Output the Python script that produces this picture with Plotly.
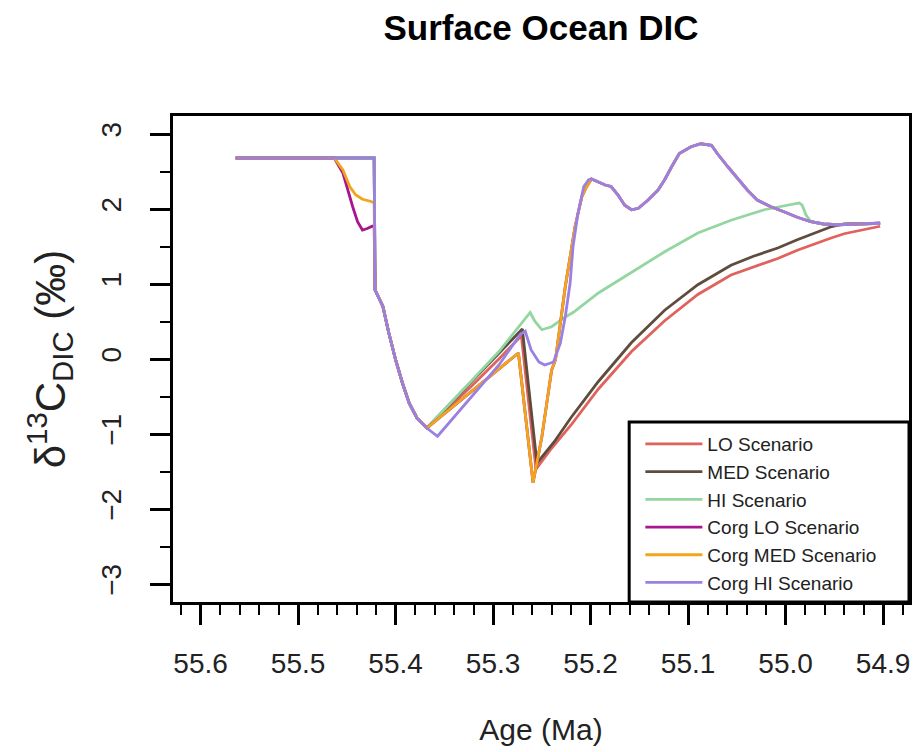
import plotly.graph_objects as go

# ---------------- data ----------------
age_lo = [55.564, 55.422, 55.421, 55.413, 55.407, 55.400, 55.393, 55.386, 55.378, 55.368,
          55.322, 55.294, 55.271, 55.256, 55.240, 55.220, 55.192, 55.158, 55.124, 55.090,
          55.056, 55.036, 55.022, 55.008, 54.988, 54.974, 54.954, 54.940, 54.920, 54.903]
d13c_lo = [2.68, 2.68, 0.92, 0.70, 0.35, -0.01, -0.32, -0.59, -0.79, -0.92,
           -0.36, 0.00, 0.31, -1.47, -1.19, -0.88, -0.40, 0.10, 0.51, 0.86,
           1.12, 1.21, 1.27, 1.34, 1.45, 1.52, 1.61, 1.67, 1.72, 1.77]

age_med = [55.564, 55.422, 55.421, 55.413, 55.407, 55.400, 55.393, 55.386, 55.378, 55.368,
           55.322, 55.294, 55.270, 55.255, 55.237, 55.220, 55.192, 55.158, 55.124, 55.090,
           55.056, 55.033, 55.022, 55.008, 54.988, 54.974, 54.954, 54.940, 54.920, 54.903]
d13c_med = [2.68, 2.68, 0.92, 0.70, 0.35, -0.01, -0.32, -0.59, -0.79, -0.92,
            -0.30, 0.08, 0.40, -1.39, -1.10, -0.78, -0.30, 0.22, 0.65, 0.99,
            1.25, 1.37, 1.42, 1.48, 1.59, 1.66, 1.76, 1.80, 1.81, 1.81]

age_hi = [55.564, 55.422, 55.421, 55.413, 55.407, 55.400, 55.393, 55.386, 55.378, 55.368,
          55.325, 55.294, 55.262, 55.257, 55.250, 55.240, 55.226, 55.218, 55.192, 55.158,
          55.124, 55.090, 55.056, 55.022, 54.995, 54.986, 54.983, 54.979, 54.974, 54.961,
          54.947, 54.920, 54.903]
d13c_hi = [2.68, 2.68, 0.92, 0.70, 0.35, -0.01, -0.32, -0.59, -0.79, -0.92,
           -0.33, 0.10, 0.62, 0.50, 0.39, 0.43, 0.56, 0.62, 0.88, 1.16,
           1.43, 1.68, 1.85, 1.99, 2.05, 2.08, 2.05, 1.92, 1.83, 1.80,
           1.79, 1.80, 1.81]

age_corg_lo = [55.564, 55.463, 55.454, 55.449, 55.444, 55.439, 55.434, 55.429, 55.424, 55.422,
               55.421, 55.413, 55.407, 55.400, 55.393, 55.386, 55.378, 55.368, 55.322, 55.294,
               55.274, 55.259, 55.250, 55.240, 55.236, 55.226, 55.216, 55.209, 55.204, 55.199,
               55.192, 55.185, 55.179, 55.172, 55.165, 55.158, 55.151, 55.141, 55.131, 55.124,
               55.117, 55.109, 55.097, 55.087, 55.076, 55.070, 55.059, 55.049, 55.039, 55.029,
               55.015, 55.001, 54.988, 54.974, 54.961, 54.947, 54.920, 54.903]
d13c_corg_lo = [2.68, 2.68, 2.48, 2.25, 2.03, 1.83, 1.72, 1.74, 1.77, 1.77,
                0.92, 0.70, 0.35, -0.01, -0.32, -0.59, -0.79, -0.92, -0.43, -0.13,
                0.08, -1.65, -1.04, -0.15, -0.01, 0.96, 1.76, 2.16, 2.30, 2.40,
                2.36, 2.32, 2.30, 2.19, 2.05, 1.99, 2.01, 2.12, 2.25, 2.39,
                2.56, 2.74, 2.83, 2.87, 2.85, 2.74, 2.56, 2.41, 2.25, 2.12,
                2.03, 1.96, 1.89, 1.83, 1.80, 1.79, 1.80, 1.81]

age_corg_med = [55.564, 55.463, 55.454, 55.447, 55.441, 55.434, 55.425, 55.422, 55.421, 55.413,
                55.407, 55.400, 55.393, 55.386, 55.378, 55.368, 55.322, 55.294, 55.274, 55.259,
                55.250, 55.240, 55.236, 55.226, 55.216, 55.209, 55.204, 55.199,
                55.192, 55.185, 55.179, 55.172, 55.165, 55.158, 55.151, 55.141, 55.131, 55.124,
                55.117, 55.109, 55.097, 55.087, 55.076, 55.070, 55.059, 55.049, 55.039, 55.029,
                55.015, 55.001, 54.988, 54.974, 54.961, 54.947, 54.920, 54.903]
d13c_corg_med = [2.68, 2.68, 2.52, 2.30, 2.19, 2.13, 2.10, 2.08, 0.92, 0.70,
                 0.35, -0.01, -0.32, -0.59, -0.79, -0.92, -0.43, -0.13, 0.08, -1.65,
                 -1.04, -0.15, -0.01, 0.96, 1.76, 2.16, 2.30, 2.40,
                 2.36, 2.32, 2.30, 2.19, 2.05, 1.99, 2.01, 2.12, 2.25, 2.39,
                 2.56, 2.74, 2.83, 2.87, 2.85, 2.74, 2.56, 2.41, 2.25, 2.12,
                 2.03, 1.96, 1.89, 1.83, 1.80, 1.79, 1.80, 1.81]

age_corg_hi = [55.564, 55.422, 55.421, 55.413, 55.407, 55.400, 55.393, 55.386, 55.378, 55.368,
               55.357, 55.322, 55.294, 55.272, 55.267, 55.261, 55.253, 55.247, 55.238, 55.231,
               55.226, 55.221, 55.218, 55.213, 55.207, 55.202, 55.199,
               55.192, 55.185, 55.179, 55.172, 55.165, 55.158, 55.151, 55.141, 55.131, 55.124,
               55.117, 55.109, 55.097, 55.087, 55.076, 55.070, 55.059, 55.049, 55.039, 55.029,
               55.015, 55.001, 54.988, 54.974, 54.961, 54.947, 54.920, 54.903]
d13c_corg_hi = [2.68, 2.68, 0.92, 0.70, 0.35, -0.01, -0.32, -0.59, -0.79, -0.92,
                -1.03, -0.50, -0.08, 0.33, 0.37, 0.12, -0.04, -0.08, -0.04, 0.21,
                0.56, 1.01, 1.50, 1.94, 2.30, 2.39, 2.40,
                2.36, 2.32, 2.30, 2.19, 2.05, 1.99, 2.01, 2.12, 2.25, 2.39,
                2.56, 2.74, 2.83, 2.87, 2.85, 2.74, 2.56, 2.41, 2.25, 2.12,
                2.03, 1.96, 1.89, 1.83, 1.80, 1.79, 1.80, 1.81]

series_names = ["LO Scenario", "MED Scenario", "HI Scenario",
                "Corg LO Scenario", "Corg MED Scenario", "Corg HI Scenario"]
series_colors = ["#e0625c", "#5e4c3c", "#93d6a0", "#a8158f", "#f2a51a", "#9a80e2"]

x_tick_vals = [55.6, 55.5, 55.4, 55.3, 55.2, 55.1, 55.0, 54.9]
x_tick_text = ["55.6", "55.5", "55.4", "55.3", "55.2", "55.1", "55.0", "54.9"]
y_tick_vals = [-3, -2, -1, 0, 1, 2, 3]
y_tick_text = ["\u22123", "\u22122", "\u22121", "0", "1", "2", "3"]

# ---------------- figure ----------------
xs = [age_lo, age_med, age_hi, age_corg_lo, age_corg_med, age_corg_hi]
ys = [d13c_lo, d13c_med, d13c_hi, d13c_corg_lo, d13c_corg_med, d13c_corg_hi]

FONT = "Liberation Sans, Arial, Helvetica, sans-serif"

fig = go.Figure()
for x, y, n, c in zip(xs, ys, series_names, series_colors):
    fig.add_trace(go.Scatter(x=x, y=y, mode="lines", name=n,
                             line=dict(color=c, width=2.8)))

fig.update_layout(
    width=919, height=752,
    margin=dict(l=173, r=7, t=116, b=150),
    paper_bgcolor="white", plot_bgcolor="white",
    font=dict(family=FONT, color="black"),
    title=dict(text="<b>Surface Ocean DIC</b>", font=dict(size=35, family=FONT, color="black"),
               x=0.5, xref="paper", xanchor="center",
               y=1 - 28 / 752, yref="container", yanchor="middle"),
    showlegend=True,
    legend=dict(x=0.635, xanchor="left", y=0.364, yanchor="top",
                bgcolor="rgba(0,0,0,0)", borderwidth=0,
                font=dict(size=19, family=FONT, color="#222"),
                itemwidth=57, tracegroupgap=0),
    shapes=[dict(type="rect", xref="paper", yref="paper",
                 x0=0.6198, x1=1.0, y0=0.0, y1=0.3704,
                 line=dict(color="black", width=3), fillcolor="rgba(0,0,0,0)",
                 layer="above")],
)

fig.update_xaxes(
    range=[55.6283, 54.8734],
    tickmode="array", tickvals=x_tick_vals, ticktext=x_tick_text,
    ticks="outside", ticklen=20, tickwidth=3, tickcolor="black",
    tickfont=dict(size=28, family=FONT, color="#222"),
    ticklabelstandoff=14,
    minor=dict(tickmode="linear", tick0=54.9, dtick=0.02, ticks="outside",
               ticklen=10, tickwidth=2, tickcolor="black", showgrid=False),
    showline=True, linewidth=3, linecolor="black", mirror=True,
    showgrid=False, zeroline=False,
    title=dict(text="Age (Ma)", font=dict(size=30, family=FONT, color="#222"), standoff=42),
)

fig.update_yaxes(
    range=[-3.24, 3.24],
    tickmode="array", tickvals=y_tick_vals, ticktext=y_tick_text,
    tickangle=-90,
    ticks="outside", ticklen=20, tickwidth=3, tickcolor="black",
    tickfont=dict(size=28, family=FONT, color="#222"),
    ticklabelstandoff=18,
    minor=dict(tickmode="linear", tick0=0, dtick=0.5, ticks="outside",
               ticklen=10, tickwidth=2, tickcolor="black", showgrid=False),
    showline=True, linewidth=3, linecolor="black", mirror=True,
    showgrid=False, zeroline=False,
    title=dict(text="\u03b4<sup>13</sup>C<sub>DIC</sub> (\u2030)",
               font=dict(size=42, family=FONT, color="#222"), standoff=18),
)

fig.write_html("out.html")
